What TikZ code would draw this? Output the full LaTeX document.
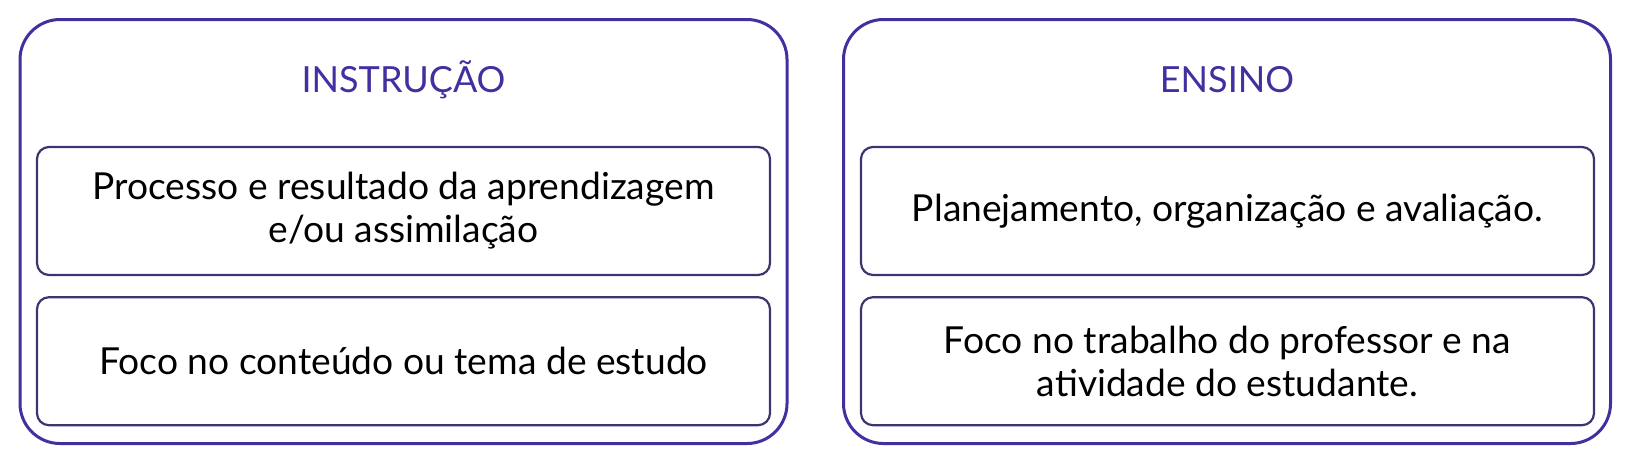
\documentclass[tikz,border=0pt]{standalone}
\usepackage{fontspec}
\setmainfont{Lato}
\usetikzlibrary{positioning}
\definecolor{roxo}{RGB}{64,48,160}
\definecolor{borda}{RGB}{62,52,112}

\begin{document}
\begin{tikzpicture}[
		bloco/.style={draw=roxo, line width=1.5pt, rounded corners=20pt, minimum width=383.5pt, minimum height=212pt},
		caixa/.style={draw=borda, line width=1.1pt, rounded corners=6pt, minimum width=366.5pt, minimum height=64pt, align=center, font=\fontsize{18.6}{21.5}\selectfont},
		titulo/.style={text=roxo, font=\fontsize{18}{20}\selectfont}
	]
		\useasboundingbox (0,0) rectangle (816pt,-231.5pt);
		
		\node[bloco] (instrucao) at (201.75pt,-115.75pt) {};
		\node[bloco] (ensino) at (613.5pt,-115.75pt) {};
		
		\node[titulo] (tinstrucao) at (201.75pt,-40pt) {INSTRUÇÃO};
		\node[titulo] (tensino) at (613.5pt,-40pt) {ENSINO};
		
		
		\node[caixa] (processo) at (201.75pt,-105.5pt) {Processo e resultado da aprendizagem\\e/ou assimilação};
		\node[caixa, below=10pt of processo] (conteudo) {Foco no conteúdo ou tema de estudo};
		
		\node[caixa] (planejamento) at (613.75pt,-105.5pt) {Planejamento, organização e avaliação.};
		\node[caixa, below=10pt of planejamento] (trabalho) {Foco no trabalho do professor e na\\atividade do estudante.};
		
		\end{tikzpicture}
\end{document}
